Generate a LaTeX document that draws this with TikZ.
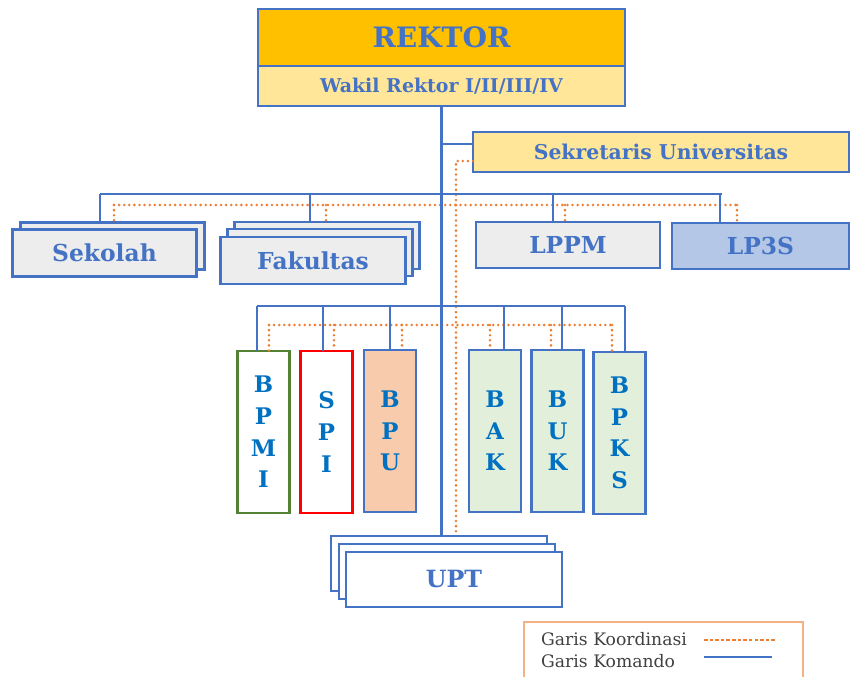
\documentclass[tikz,border=0pt]{standalone}
\usepackage{fontspec}
\setmainfont{DejaVu Serif}
\usetikzlibrary{positioning}

\definecolor{garis}{HTML}{4472C4}
\definecolor{huruf}{HTML}{0070C0}
\definecolor{koordinasi}{HTML}{ED7D31}
\definecolor{emas}{HTML}{FFC000}
\definecolor{krem}{HTML}{FFE699}
\definecolor{abu}{HTML}{EDEDED}
\definecolor{birumuda}{HTML}{B4C7E7}
\definecolor{salem}{HTML}{F8CBAD}
\definecolor{hijaumuda}{HTML}{E2EFDA}
\definecolor{hijau}{HTML}{548235}
\definecolor{oranyemuda}{HTML}{F4B183}

\begin{document}
\begin{tikzpicture}[x=0.02cm, y=-0.02cm,
    unit/.style={draw=garis, line width=1.3pt, inner sep=0pt, outer sep=0pt,
                 font=\bfseries, text=garis},
    boxdim/.style 2 args={minimum width=#1*0.02cm, minimum height=#2*0.02cm},
    lembaga/.style={unit, font=\bfseries\fontsize{13.3}{15}\selectfont},
    biro/.style={unit, boxdim={52}{162}, text=huruf, align=center,
                 font=\bfseries\fontsize{13}{18}\selectfont},
    trunk/.style={draw=garis, line width=1.3pt},
    cabang/.style={draw=garis, line width=0.9pt},
    koord/.style={draw=koordinasi, line width=1.6pt, line cap=round,
                  dash pattern=on 0pt off 2.9pt},
  ]
  \useasboundingbox (0,0) rectangle (850,677);

  % Pimpinan
  \node[unit, fill=emas, boxdim={367}{57}, font=\bfseries\fontsize{16}{19}\selectfont]
    (rektor) at (441.5,37.5) {REKTOR};
  \node[unit, fill=krem, boxdim={367}{40}, font=\bfseries\fontsize{10.8}{12}\selectfont,
    below=0pt of rektor] (wakil) {Wakil Rektor I/II/III/IV};
  \node[unit, fill=krem, boxdim={376}{40}, font=\bfseries\fontsize{11.6}{13}\selectfont]
    (sekr) at (661,152) {Sekretaris Universitas};

  % Tier 1: sekolah, fakultas, lembaga
  \coordinate (sekpos) at (104.5,253);
  \node[unit, fill=abu, boxdim={184}{47}] (sekB) at ([shift={(8,-7)}]sekpos) {};
  \node[lembaga, fill=abu, boxdim={184}{47}] (sekolah) at (sekpos) {Sekolah};
  \coordinate (fakpos) at (313,260.5);
  \foreach \i/\dx/\dy in {3/14/-15, 2/7/-8}
    \node[unit, fill=abu, boxdim={185}{47}] (fak\i) at ([shift={(\dx,\dy)}]fakpos) {};
  \node[lembaga, fill=abu, boxdim={185}{47}] (fakultas) at (fakpos) {Fakultas};
  \node[lembaga, fill=abu, boxdim={184}{46}] (lppm) at (568,245) {LPPM};
  \node[lembaga, fill=birumuda, boxdim={177}{46}] (lp3s) at (760.5,246) {LP3S};

  % Tier 2: badan dan biro
  \node[biro, draw=hijau, fill=white] (bpmi) at (263.5,432) {B\\P\\M\\I};
  \node[biro, draw=red, fill=white] (spi) at (326.5,432) {S\\P\\I};
  \node[biro, fill=salem] (bpu) at (390,431) {B\\P\\U};
  \node[biro, fill=hijaumuda] (bak) at (495,431) {B\\A\\K};
  \node[biro, fill=hijaumuda] (buk) at (557.5,431) {B\\U\\K};
  \node[biro, fill=hijaumuda] (bpks) at (619.5,433) {B\\P\\K\\S};

  % UPT stack
  \coordinate (uptpos) at (454,579.5);
  \foreach \i/\dx/\dy in {3/-15/-16, 2/-7/-8}
    \node[unit, fill=white, boxdim={216}{55}] (upt\i) at ([shift={(\dx,\dy)}]uptpos) {};
  \node[unit, fill=white, boxdim={216}{55}, font=\bfseries\fontsize{13.5}{15}\selectfont]
    (upt) at (uptpos) {UPT};

  % garis koordinasi
  \draw[koord] (sekr.west |- 0,161) -| (upt3.north -| 456,0);
  \draw[koord] (114,205) -- (738,205);
  \foreach \x/\n in {114/sekB, 326/fak3, 565/lppm, 737/lp3s}
    \draw[koord] (\x,205) -- (\x,205 |- \n.north);
  \draw[koord] (269,325) -- (612,325);
  \draw[koord] (334,325) -- (334,347);
  \foreach \x/\n in {269/bpmi, 402/bpu, 490/bak, 551/buk, 612/bpks}
    \draw[koord] (\x,325) -- (\x,325 |- \n.north);

  % garis komando
  \draw[trunk] (wakil.south) -- (wakil.south |- upt3.north);
  \draw[trunk] (sekr.west |- 0,144) -- (wakil.south |- 0,144);
  \draw[trunk] (100,194) -- (722,194);
  \foreach \x/\n in {100/sekB, 310/fak3, 553/lppm, 720/lp3s}
    \draw[cabang] (\x,194) -- (\x,194 |- \n.north);
  \draw[trunk] (257,306) -- (625,306);
  \foreach \x/\n in {257/bpmi, 323/spi, 390/bpu, 504/bak, 562/buk, 625/bpks}
    \draw[cabang] (\x,306) -- (\x,306 |- \n.north);

  % Keterangan
  \node[draw=oranyemuda, line width=0.9pt, inner sep=0pt, boxdim={279}{60}]
    (legend) at (663.5,652) {};
  \node[anchor=west, text=black!75, font=\fontsize{9.8}{11}\selectfont]
    (lkoord) at (535,639) {Garis Koordinasi};
  \node[anchor=west, text=black!75, font=\fontsize{9.8}{11}\selectfont]
    (lkomando) at (535,661) {Garis Komando};
  \draw[draw=koordinasi, line width=0.9pt, dash pattern=on 2pt off 1.2pt]
    (704,640) -- (775,640);
  \draw[trunk] (704,657) -- (772,657);
\end{tikzpicture}
\end{document}
